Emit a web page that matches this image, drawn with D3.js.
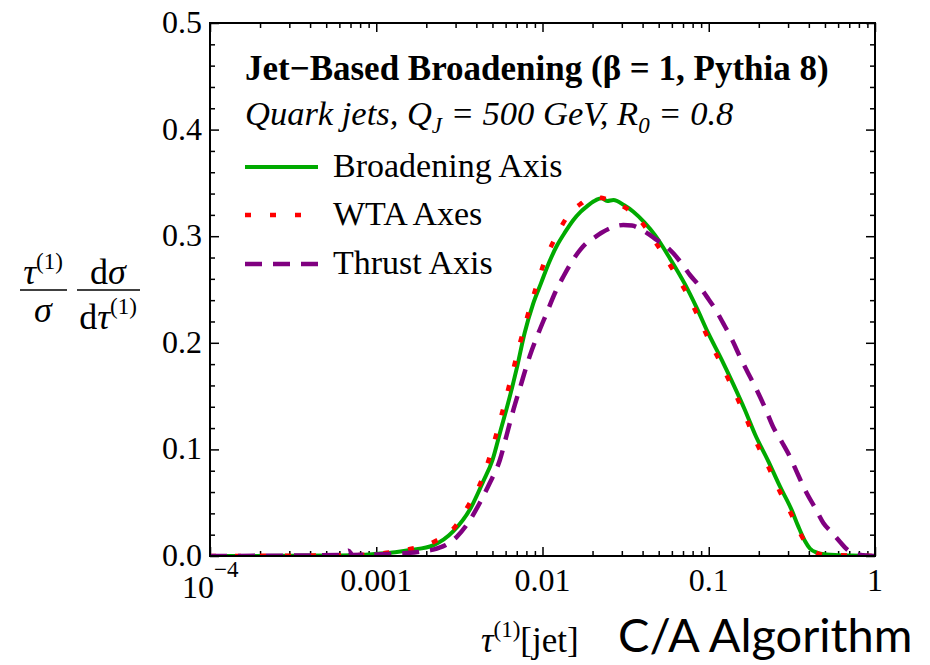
<!DOCTYPE html>
<html lang="en">
<head>
<meta charset="UTF-8">
<title>Jet-Based Broadening</title>
<script src="https://cdn.jsdelivr.net/npm/d3@7"></script>
<style>
    body { margin: 0; background: #fff; }
    text { font-family: "Liberation Serif", "Times New Roman", serif; fill: #000; }
    .greek { font-style: italic; }
</style>
</head>
<body>
<div id="chart-space"></div>
<script>
    // values
    var broadTau = [0.0001, 0.0005, 0.0008, 0.001, 0.0013, 0.0016, 0.0022, 0.0029, 0.0037, 0.0044, 0.005, 0.0056, 0.0062, 0.007, 0.0078, 0.0088, 0.0098, 0.011, 0.0122, 0.0137, 0.0153, 0.017, 0.0185, 0.0205, 0.0227, 0.0245, 0.0267, 0.031, 0.0352, 0.041, 0.0475, 0.0585, 0.0719, 0.0845, 0.0993, 0.1197, 0.1406, 0.165, 0.19, 0.228, 0.2685, 0.3155, 0.345, 0.379, 0.406, 0.45, 0.51, 0.6, 0.8, 1.0];
    var broadVal = [0, 0.0005, 0.001, 0.002, 0.0035, 0.0056, 0.010, 0.023, 0.045, 0.070, 0.090, 0.118, 0.143, 0.176, 0.209, 0.237, 0.256, 0.276, 0.291, 0.304, 0.315, 0.323, 0.328, 0.333, 0.3355, 0.333, 0.334, 0.329, 0.323, 0.313, 0.301, 0.279, 0.255, 0.233, 0.209, 0.184, 0.161, 0.137, 0.114, 0.089, 0.065, 0.043, 0.028, 0.014, 0.007, 0.003, 0.0015, 0.0008, 0.0003, 0];

    var wtaTau = [0.0001, 0.0005, 0.00066, 0.00069, 0.00072, 0.001, 0.0013, 0.0016, 0.0022, 0.003, 0.0036, 0.0043, 0.0049, 0.00542, 0.006, 0.00662, 0.0073, 0.0081, 0.0091, 0.0102, 0.0119, 0.01462, 0.0172, 0.0198, 0.0225, 0.0271, 0.032, 0.0377, 0.0475, 0.0585, 0.0719, 0.0845, 0.0993, 0.1197, 0.1406, 0.165, 0.19, 0.228, 0.2685, 0.3155, 0.345, 0.379, 0.43, 0.51, 0.7, 1.0];
    var wtaVal = [0, 0.0005, 0.0008, 0.003, 0.0008, 0.002, 0.004, 0.0065, 0.013, 0.028, 0.048, 0.071, 0.097, 0.121, 0.147, 0.173, 0.199, 0.2245, 0.251, 0.2745, 0.298, 0.3215, 0.331, 0.337, 0.336, 0.332, 0.326, 0.3168, 0.295, 0.273, 0.2495, 0.2277, 0.204, 0.179, 0.156, 0.132, 0.109, 0.084, 0.060, 0.0385, 0.025, 0.0134, 0.004, 0.001, 0.0005, 0];

    var thrustTau = [0.0001, 0.0004, 0.00064, 0.00068, 0.00072, 0.001, 0.0013, 0.0016, 0.0019, 0.0022, 0.0026, 0.00305, 0.0036, 0.0042, 0.0048, 0.00554, 0.0061, 0.00668, 0.00733, 0.0084, 0.0095, 0.0106, 0.0119, 0.01333, 0.015, 0.0168, 0.0185, 0.0202, 0.0225, 0.026, 0.0306, 0.0345, 0.0385, 0.0435, 0.0486, 0.055, 0.0612, 0.069, 0.0771, 0.087, 0.0973, 0.11, 0.1225, 0.138, 0.154, 0.172, 0.194, 0.218, 0.244, 0.275, 0.308, 0.345, 0.388, 0.437, 0.489, 0.55, 0.615, 0.68, 0.74, 0.85, 1.0];
    var thrustVal = [0, 0.0005, 0.001, 0.005, 0.001, 0.0015, 0.002, 0.003, 0.0045, 0.006, 0.010, 0.018, 0.032, 0.050, 0.068, 0.090, 0.114, 0.137, 0.158, 0.188, 0.210, 0.228, 0.247, 0.262, 0.276, 0.287, 0.294, 0.298, 0.303, 0.308, 0.3105, 0.310, 0.307, 0.302, 0.2965, 0.291, 0.284, 0.274, 0.2636, 0.254, 0.2433, 0.231, 0.218, 0.203, 0.187, 0.172, 0.156, 0.139, 0.121, 0.107, 0.093, 0.076, 0.059, 0.045, 0.031, 0.022, 0.0134, 0.006, 0.0025, 0.0008, 0];

    var seriesNames = ["Broadening Axis", "WTA Axes", "Thrust Axis"];

    var xMajor = [0.0001, 0.001, 0.01, 0.1, 1];
    var xTickLabels = ["10", "0.001", "0.01", "0.1", "1"];
    var yMajor = [0, 0.1, 0.2, 0.3, 0.4, 0.5];
    var yTickLabels = ["0.0", "0.1", "0.2", "0.3", "0.4", "0.5"];

    var width = 930;
    var height = 665;
    var margin = {top: 23, right: 55, bottom: 109, left: 210};
    var chartWidth = width - margin.left - margin.right;
    var chartHeight = height - margin.top - margin.bottom;

    var styles = [
        {color: "rgb(0,170,0)", width: 4, dash: null},
        {color: "rgb(255,0,0)", width: 4.5, dash: "6,19"},
        {color: "rgb(128,0,128)", width: 4.5, dash: "17,11"}
    ];

    var svg = d3.select("#chart-space")
        .append("svg")
        .attr("width", width)
        .attr("height", height);

    var g = svg.append("g")
        .attr("transform", "translate(" + margin.left + "," + margin.top + ")");

    var xScale = d3.scaleLog().domain([1e-4, 1]).range([0, chartWidth]);
    var yScale = d3.scaleLinear().domain([0, 0.5]).range([chartHeight, 0]);

    // minor ticks
    var xMinor = xScale.ticks().filter(function(d) { return xMajor.indexOf(d) < 0; });
    var yMinor = d3.range(0, 0.501, 0.02).filter(function(d) {
        return Math.abs(Math.round(d * 10) - d * 10) > 1e-6;
    });

    function tickAxis(axis, vals, size) {
        return axis.tickValues(vals).tickSize(size).tickFormat("");
    }

    var axes = [
        [d3.axisBottom, "translate(0," + chartHeight + ")", xScale, xMinor, xMajor],
        [d3.axisTop, "translate(0,0)", xScale, xMinor, xMajor],
        [d3.axisLeft, "translate(0,0)", yScale, yMinor, yMajor],
        [d3.axisRight, "translate(" + chartWidth + ",0)", yScale, yMinor, yMajor]
    ];
    axes.forEach(function(a) {
        var gm = g.append("g").attr("transform", a[1]).call(tickAxis(a[0](a[2]), a[3], -5));
        gm.select(".domain").remove();
        var gM = g.append("g").attr("transform", a[1]).call(tickAxis(a[0](a[2]), a[4], -9));
        gM.select(".domain").remove();
    });
    g.selectAll(".tick line").attr("stroke", "#000").attr("stroke-width", 1.5);

    // curves
    g.append("clipPath").attr("id", "plot-clip")
        .append("rect").attr("width", chartWidth).attr("height", chartHeight);

    var line = d3.line()
        .x(function(d) { return xScale(d[0]); })
        .y(function(d) { return yScale(d[1]); })
        .curve(d3.curveMonotoneX);

    var seriesData = [
        broadTau.map(function(t, i) { return [t, broadVal[i]]; }),
        wtaTau.map(function(t, i) { return [t, wtaVal[i]]; }),
        thrustTau.map(function(t, i) { return [t, thrustVal[i]]; })
    ];

    var curves = g.append("g").attr("clip-path", "url(#plot-clip)");
    seriesData.forEach(function(d, i) {
        curves.append("path")
            .datum(d)
            .attr("d", line)
            .attr("fill", "none")
            .attr("stroke", styles[i].color)
            .attr("stroke-width", styles[i].width)
            .attr("stroke-dasharray", styles[i].dash)
            .attr("stroke-linejoin", "round");
    });

    // frame
    g.append("rect")
        .attr("width", chartWidth).attr("height", chartHeight)
        .attr("fill", "none").attr("stroke", "#000").attr("stroke-width", 2);

    // tick labels
    xMajor.forEach(function(v, i) {
        var t = g.append("text")
            .attr("x", xScale(v))
            .attr("y", chartHeight + 35)
            .attr("text-anchor", "middle")
            .style("font-size", "32px")
            .text(xTickLabels[i]);
        if (i === 0) {
            t.attr("y", chartHeight + 42).attr("x", xScale(v) - 28).attr("text-anchor", "start");
            t.append("tspan").attr("dy", -21).style("font-size", "23px").text("\u22124");
        }
    });
    yMajor.forEach(function(v, i) {
        g.append("text")
            .attr("x", -8)
            .attr("y", yScale(v) + 10)
            .attr("text-anchor", "end")
            .style("font-size", "32px")
            .text(yTickLabels[i]);
    });

    // title and subtitle
    svg.append("text")
        .attr("x", 245).attr("y", 80)
        .style("font-size", "35px").style("font-weight", "bold")
        .text("Jet\u2212Based Broadening (\u03B2 = 1, Pythia 8)");

    var sub = svg.append("text")
        .attr("x", 245).attr("y", 125)
        .style("font-size", "34.5px").style("font-style", "italic");
    sub.append("tspan").text("Quark jets, Q");
    sub.append("tspan").attr("dy", 8).style("font-size", "23px").text("J");
    sub.append("tspan").attr("dy", -8).text(" = 500 GeV, R");
    sub.append("tspan").attr("dy", 8).style("font-size", "23px").text("0");
    sub.append("tspan").attr("dy", -8).text(" = 0.8");

    // legend
    var legendY = [167, 215, 264];
    seriesNames.forEach(function(name, i) {
        svg.append("line")
            .attr("x1", 245).attr("x2", 318)
            .attr("y1", legendY[i]).attr("y2", legendY[i])
            .attr("stroke", styles[i].color)
            .attr("stroke-width", styles[i].width)
            .attr("stroke-dasharray", styles[i].dash);
        svg.append("text")
            .attr("x", 333).attr("y", legendY[i] + 10)
            .style("font-size", "34px")
            .text(name);
    });

    // y label: tau/sigma dsigma/dtau
    var yl = svg.append("g");
    var n1 = yl.append("text").attr("x", 43).attr("y", 284).attr("text-anchor", "middle").style("font-size", "36px");
    n1.append("tspan").attr("class", "greek").text("\u03C4");
    n1.append("tspan").attr("dy", -15).style("font-size", "23px").text("(1)");
    yl.append("line").attr("x1", 20).attr("x2", 67).attr("y1", 290).attr("y2", 290)
        .attr("stroke", "#000").attr("stroke-width", 1.5);
    yl.append("text").attr("x", 43).attr("y", 322).attr("text-anchor", "middle")
        .attr("class", "greek").style("font-size", "36px").text("\u03C3");

    var n2 = yl.append("text").attr("x", 108).attr("y", 284).attr("text-anchor", "middle").style("font-size", "36px");
    n2.append("tspan").text("d");
    n2.append("tspan").attr("class", "greek").text("\u03C3");
    yl.append("line").attr("x1", 77).attr("x2", 140).attr("y1", 290).attr("y2", 290)
        .attr("stroke", "#000").attr("stroke-width", 1.5);
    var d1 = yl.append("text").attr("x", 108).attr("y", 329).attr("text-anchor", "middle").style("font-size", "36px");
    d1.append("tspan").text("d");
    d1.append("tspan").attr("class", "greek").text("\u03C4");
    d1.append("tspan").attr("dy", -15).style("font-size", "23px").text("(1)");

    // x label
    var xl = svg.append("text").attr("x", 481).attr("y", 652).style("font-size", "35px");
    xl.append("tspan").attr("class", "greek").text("\u03C4");
    xl.append("tspan").attr("dy", -15).style("font-size", "23px").text("(1)");
    xl.append("tspan").attr("dy", 15).text("[jet]");

    svg.append("text")
        .attr("x", 618).attr("y", 652)
        .style("font-family", "Lato, 'Open Sans', sans-serif")
        .style("font-size", "47px")
        .text("C/A Algorithm");
</script>
</body>
</html>
